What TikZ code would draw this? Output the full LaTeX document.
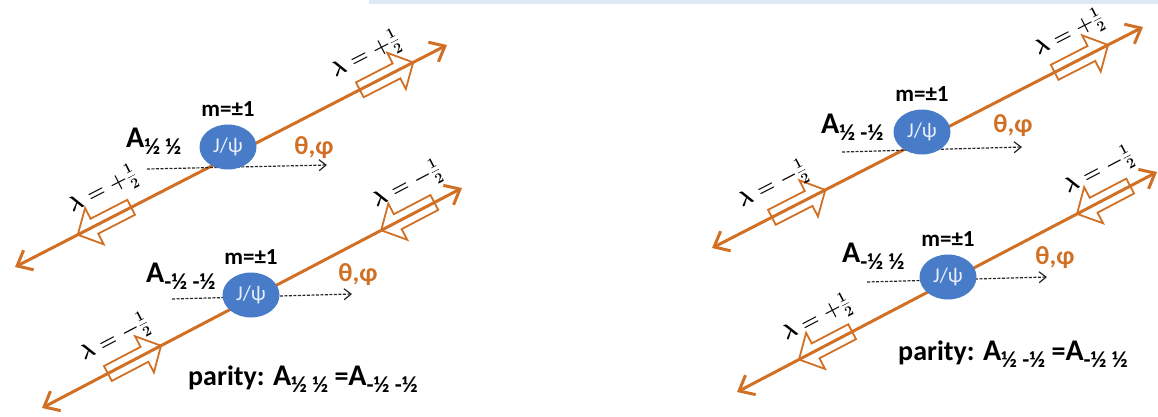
\documentclass[tikz,border=0pt]{standalone}
\usepackage{fontspec}
\setmainfont{Carlito}
\usetikzlibrary{arrows.meta,positioning,shapes.geometric,shapes.arrows}

\definecolor{spinorange}{RGB}{209,112,36}
\definecolor{psiblue}{RGB}{72,124,200}
\definecolor{bandblue}{RGB}{222,233,245}

\newcommand{\amp}[1]{{\fontsize{30}{32}\selectfont A}\raisebox{-7pt}{\fontsize{23}{24}\selectfont #1}}

\begin{document}
\begin{tikzpicture}[x=1pt,y=-1pt]
\tikzset{spin/.style={draw=spinorange, line width=3pt,
  {Straight Barb[length=13pt,width=22pt]}-{Straight Barb[length=13pt,width=22pt]}},
  hel/.style={single arrow, draw=spinorange, line width=1.8pt, minimum height=60pt,
  minimum width=40pt, inner sep=7.5pt, single arrow head extend=12pt,
  single arrow tip angle=95, sloped},
  hellabel/.style={sloped, above=13pt, inner sep=0pt,
  font=\fontsize{22}{24}\selectfont\boldmath},
  psi/.style={ellipse, fill=psiblue, minimum width=57pt, minimum height=45pt, inner sep=0pt,
  text=white!88!psiblue, font=\fontsize{21}{22}\selectfont},
  mlabel/.style={inner sep=0pt, font=\bfseries\fontsize{23}{24}\selectfont},
  amplabel/.style={inner sep=0pt, anchor=base west, font=\bfseries},
  angles/.style={inner sep=0pt, text=spinorange, font=\bfseries\fontsize{26}{28}\selectfont},
  axis/.style={dash pattern=on 3pt off 1.5pt, line width=1.2pt, draw=black!85,
  -{Straight Barb[length=7pt,width=11pt]}}}
\useasboundingbox (0,0) rectangle (1158,416);
\fill[bandblue] (369,0) rectangle (1158,4);

% left: lambda = lambda'
\coordinate (l1a) at (15,267);
\coordinate (l1b) at (447,45);
\draw[spin] (l1a) -- (l1b)
  node[hel, pos=.215, shape border rotate=180] (h1a) {}
  node[hel, pos=.852] (h1b) {}
  node[hellabel, pos=.233] (t1a) {$\lambda=+\frac{1}{2}$}
  node[hellabel, pos=.842] (t1b) {$\lambda=+\frac{1}{2}$};
\coordinate (l2a) at (42,408);
\coordinate (l2b) at (462,188);
\draw[spin] (l2a) -- (l2b)
  node[hel, pos=.212] (h2a) {}
  node[hel, pos=.879, shape border rotate=180] (h2b) {}
  node[hellabel, pos=.204] (t2a) {$\lambda=-\frac{1}{2}$}
  node[hellabel, pos=.900] (t2b) {$\lambda=-\frac{1}{2}$};
\coordinate (d1s) at (147,169);
\coordinate (d1e) at (327,165);
\draw[axis] (d1s) -- (d1e);
\coordinate (d2s) at (172,299);
\coordinate (d2e) at (352,294);
\draw[axis] (d2s) -- (d2e);
\node[psi] (jp1) at (228,147) {J/ψ};
\node[psi] (jp2) at (251,295) {J/ψ};
\node[mlabel, above=8pt of jp1] (m1) {m=±1};
\node[mlabel, above=8pt of jp2] (m2) {m=±1};
\node[amplabel] (a1) at (126,147) {\amp{½ ½}};
\node[amplabel] (a2) at (146,282) {\amp{-½ -½}};
\node[angles] (ang1) at (314,148) {θ,φ};
\node[angles] (ang2) at (358,275) {θ,φ};
\node[amplabel, font=\bfseries\fontsize{28}{30}\selectfont] (par1) at (188,385)
  {parity: \amp{½ ½} =\amp{-½ -½}};

% right: lambda = -lambda'
\coordinate (l3a) at (712,248);
\coordinate (l3b) at (1143,27);
\draw[spin] (l3a) -- (l3b)
  node[hel, pos=.193] (h3a) {}
  node[hel, pos=.849] (h3b) {}
  node[hellabel, pos=.171] (t3a) {$\lambda=-\frac{1}{2}$}
  node[hellabel, pos=.858] (t3b) {$\lambda=+\frac{1}{2}$};
\coordinate (l4a) at (737,392);
\coordinate (l4b) at (1157,172);
\draw[spin] (l4a) -- (l4b)
  node[hel, pos=.219, shape border rotate=180] (h4a) {}
  node[hel, pos=.881, shape border rotate=180] (h4b) {}
  node[hellabel, pos=.221] (t4a) {$\lambda=+\frac{1}{2}$}
  node[hellabel, pos=.892] (t4b) {$\lambda=-\frac{1}{2}$};
\coordinate (d3s) at (842,152);
\coordinate (d3e) at (1022,147);
\draw[axis] (d3s) -- (d3e);
\coordinate (d4s) at (867,282);
\coordinate (d4e) at (1047,277);
\draw[axis] (d4s) -- (d4e);
\node[psi] (jp3) at (922,132) {J/ψ};
\node[psi] (jp4) at (948,277) {J/ψ};
\node[mlabel, above=8pt of jp3] (m3) {m=±1};
\node[mlabel, above=8pt of jp4] (m4) {m=±1};
\node[amplabel] (a3) at (821,133) {\amp{½ -½}};
\node[amplabel] (a4) at (842,262) {\amp{-½ ½}};
\node[angles] (ang3) at (1013,126) {θ,φ};
\node[angles] (ang4) at (1055,258) {θ,φ};
\node[amplabel, font=\bfseries\fontsize{28}{30}\selectfont] (par2) at (898,360)
  {parity: \amp{½ -½} =\amp{-½ ½}};
\end{tikzpicture}
\end{document}
